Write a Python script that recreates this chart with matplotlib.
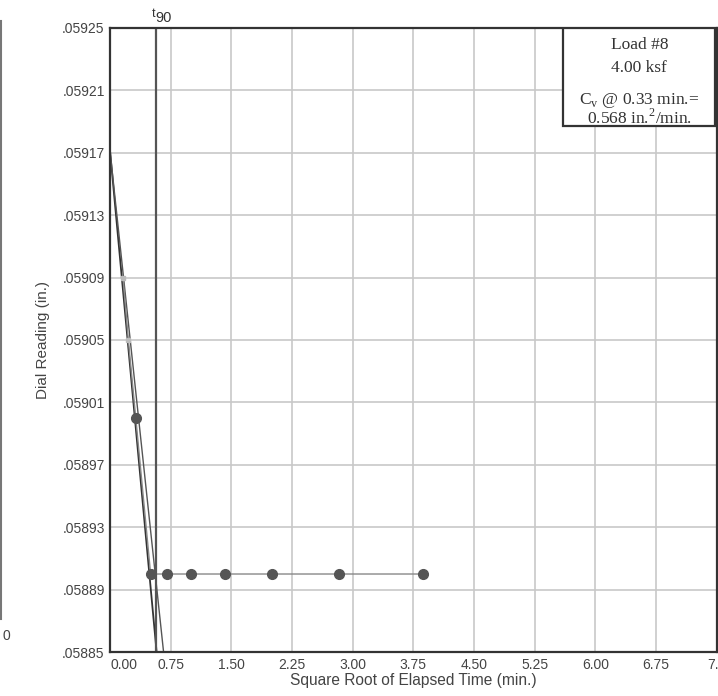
import numpy as np
import matplotlib.pyplot as plt
from matplotlib.lines import Line2D

# data: square root of elapsed time (min.) vs dial reading (in.)
sqrt_time = [0.158, 0.224, 0.316, 0.500, 0.707, 1.000, 1.414, 2.000, 2.828, 3.873]
dial = [0.05909, 0.05905, 0.05900, 0.05890, 0.05890, 0.05890, 0.05890, 0.05890, 0.05890, 0.05890]
faint = [True, True, False, False, False, False, False, False, False, False]

# fitted line and 1.15x line (start reading, x at bottom)
fit_y0 = 0.05917
fit_x_end = 0.574
fit115_x_end = 0.66
t90 = 0.563

x_ticks = [0.00, 0.75, 1.50, 2.25, 3.00, 3.75, 4.50, 5.25, 6.00, 6.75, 7.50]
x_labels = ['0.00', '0.75', '1.50', '2.25', '3.00', '3.75', '4.50', '5.25', '6.00', '6.75', '7.5']
y_ticks = [0.05885, 0.05889, 0.05893, 0.05897, 0.05901, 0.05905, 0.05909, 0.05913, 0.05917, 0.05921, 0.05925]
y_labels = ['.05885', '.05889', '.05893', '.05897', '.05901', '.05905', '.05909', '.05913', '.05917', '.05921', '.05925']

plt.rcParams['font.family'] = ['Liberation Sans', 'DejaVu Sans']

fig = plt.figure(figsize=(7.18, 6.96), dpi=100)
ax = fig.add_axes([0.1535, 0.0632, 0.8445, 0.8966])
ax.set_xlim(0, 7.5)
ax.set_ylim(0.05885, 0.05925)

ax.set_xticks(x_ticks)
ax.set_xticklabels(x_labels, fontsize=10, color='#444444')
ax.set_yticks(y_ticks)
ax.set_yticklabels(y_labels, fontsize=10, color='#444444')
ax.tick_params(length=0, pad=4)
ax.get_xticklabels()[0].set_horizontalalignment('left')
ax.grid(True, color='#c8c8c8', linewidth=1.2)
for s in ax.spines.values():
    s.set_color('#333333')
    s.set_linewidth(1.6)

ax.set_xlabel('Square Root of Elapsed Time (min.)', fontsize=11.2, color='#444444', labelpad=1)
ax.set_ylabel('Dial Reading (in.)', fontsize=11, color='#444444', labelpad=9)

# fit lines
ax.plot([0, fit_x_end], [fit_y0, 0.05885], color='#333333', linewidth=1.3)
ax.plot([0, fit115_x_end], [fit_y0, 0.05885], color='#555555', linewidth=1.0)

# t90 line
ax.axvline(t90, color='#555555', linewidth=1.6)
ax.text(t90, 0.059255, 't', fontsize=9, color='#333333', ha='right', va='bottom')
ax.text(t90, 0.059252, '90', fontsize=10.5, color='#333333', ha='left', va='bottom')

# data
ax.plot(sqrt_time, dial, color='#888888', linewidth=1.0, zorder=3)
xs = np.array(sqrt_time)
ys = np.array(dial)
fm = np.array(faint)
ax.plot(xs[~fm], ys[~fm], 'o', color='#555555', markersize=7, zorder=4, linestyle='none')
ax.plot(xs[fm], ys[fm], 's', color='#bbbbbb', markersize=3.5, zorder=4, linestyle='none')

# info box
ax.add_patch(plt.Rectangle((0.747, 0.843), 0.25, 0.157, transform=ax.transAxes,
                           facecolor='white', edgecolor='#333333', linewidth=1.6, zorder=5))
serif = dict(transform=ax.transAxes, ha='center', va='center', fontsize=12.5,
             family='Liberation Serif', color='#333333', zorder=6)
ax.text(0.8725, 0.972, 'Load #8', **serif)
ax.text(0.8725, 0.936, '4.00 ksf', **serif)
ax.text(0.8725, 0.884, r'C$_\mathregular{v}$ @ 0.33 min.=', **serif)
ax.text(0.8725, 0.855, r'0.568 in.$^\mathregular{2}$/min.', **serif)

# remnant of neighbouring chart at left edge
fig.add_artist(Line2D([0.002, 0.002], [0.11, 0.97], color='#777777', linewidth=1.5))
fig.text(0.003, 0.086, '0', fontsize=10, color='#444444', va='center')

fig.savefig('out.png', dpi=100)
